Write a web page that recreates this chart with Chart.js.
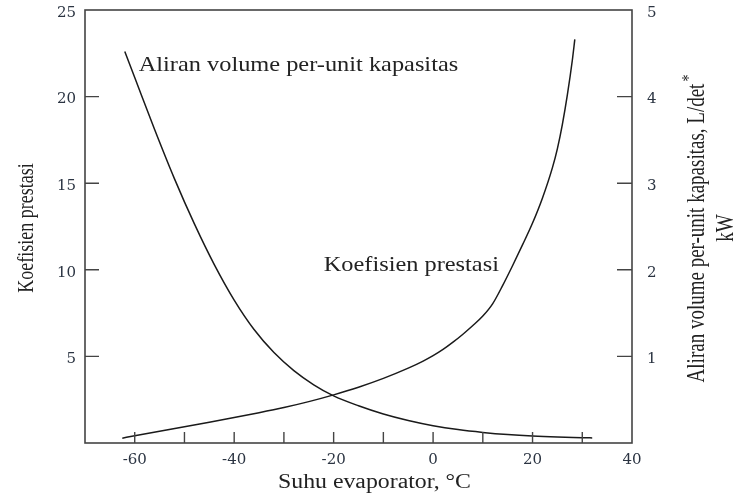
<!DOCTYPE html>
<html><head><meta charset="utf-8">
<script src="https://cdn.jsdelivr.net/npm/chart.js@4.4.0/dist/chart.umd.min.js"></script>
<style>html,body{margin:0;padding:0;background:#fff}#wrap{width:740px;height:501px;position:relative}</style>
</head><body><div id="wrap"><canvas id="c"></canvas></div>
<script>
// Koefisien prestasi (left axis) vs evaporator temperature
const copTemps  = [-62.5,-60,-55,-50,-45,-40,-35,-30,-25,-20,-15,-10,-5,-2,0,2,4,6,8,10,12,14,16,18,20,22,24,25,26,27,28,28.5];
const copValues = [0.28,0.42,0.68,0.94,1.2,1.47,1.75,2.05,2.39,2.78,3.22,3.73,4.32,4.73,5.04,5.4,5.82,6.28,6.78,7.33,8.05,9.1,10.25,11.45,12.7,14.15,15.9,17.0,18.4,20.1,22.1,23.3];
// Aliran volume per-unit kapasitas (right axis)
const volTemps  = [-62,-60,-56,-52,-48,-44,-40,-36,-32,-28,-24,-20,-15,-10,-5,0,5,10,15,20,25,30,32];
const volValues = [4.52,4.22,3.62,3.05,2.53,2.06,1.65,1.31,1.044,0.836,0.672,0.544,0.43,0.335,0.26,0.2,0.155,0.122,0.097,0.08,0.069,0.062,0.059];
// axis ticks
const xTickValues = [-60,-50,-40,-30,-20,-10,0,10,20,30];
const xTickLabels = [-60,-40,-20,0,20,40];
const leftTickLabels = [5,10,15,20,25];
const rightTickLabels = [1,2,3,4,5];
// texts
const xTitle = 'Suhu evaporator, \u00B0C';
const leftTitle = 'Koefisien prestasi';
const rightTitle = ['Aliran volume per-unit kapasitas, L/det', 'kW'];
const annVolume = {text: 'Aliran volume per-unit kapasitas', x: -59.2, y: 21.5};
const annCop = {text: 'Koefisien prestasi', x: -22, y: 9.93};

const INK = '#222';
const AXIS = '#444';
const SERIF = '"Liberation Serif", "Times New Roman", serif';

function pairs(xs, ys){ return xs.map((x,i)=>({x:x, y:ys[i]})); }

function txt(ctx, s, x, y, size, opts){
  opts = opts || {};
  ctx.save();
  ctx.translate(x, y);
  if (opts.rot) { ctx.rotate(opts.rot); ctx.scale(1, opts.stretch || 1); }
  else ctx.scale(opts.stretch || 1, 1);
  ctx.font = size + 'px ' + SERIF;
  ctx.fillStyle = INK;
  ctx.textAlign = opts.align || 'left';
  ctx.textBaseline = 'alphabetic';
  ctx.fillText(s, 0, 0);
  const w = ctx.measureText(s).width;
  ctx.restore();
  return w;
}

const decor = {
  id: 'decor',
  afterDraw(chart){
    const ctx = chart.ctx, a = chart.chartArea;
    const xs = chart.scales.x, yl = chart.scales.y, yr = chart.scales.y2;
    ctx.save();
    ctx.strokeStyle = AXIS; ctx.lineWidth = 1.6;
    ctx.strokeRect(a.left, a.top, a.right - a.left, a.bottom - a.top);
    ctx.lineWidth = 1.4;
    ctx.beginPath();
    xTickValues.forEach(v => { const p = xs.getPixelForValue(v); ctx.moveTo(p, a.bottom); ctx.lineTo(p, a.bottom - 11); });
    leftTickLabels.filter(v=>v<25).forEach(v => { const p = yl.getPixelForValue(v); ctx.moveTo(a.left, p); ctx.lineTo(a.left + 14, p); });
    rightTickLabels.filter(v=>v<5).forEach(v => { const p = yr.getPixelForValue(v); ctx.moveTo(a.right, p); ctx.lineTo(a.right - 15, p); });
    ctx.stroke();
    ctx.restore();

    // annotations
    txt(ctx, annVolume.text, xs.getPixelForValue(annVolume.x), yl.getPixelForValue(annVolume.y), 21, {stretch: 1.16});
    txt(ctx, annCop.text, xs.getPixelForValue(annCop.x), yl.getPixelForValue(annCop.y), 21, {stretch: 1.16});
    // x title
    txt(ctx, xTitle, (a.left + a.right) / 2 + 16, 488, 20, {stretch: 1.19, align: 'center'});
    // left title
    txt(ctx, leftTitle, 32.5, 228, 18, {rot: -Math.PI/2, stretch: 1.3, align: 'center'});
    // right title
    const w1 = txt(ctx, rightTitle[0], 704, 233, 19, {rot: -Math.PI/2, stretch: 1.3, align: 'center'});
    txt(ctx, '*', 695, 233 - w1/2 - 2, 14, {rot: -Math.PI/2, stretch: 1.3, align: 'left'});
    txt(ctx, rightTitle[1], 733, 228, 19, {rot: -Math.PI/2, stretch: 1.3, align: 'center'});
  }
};

const tickFont = {family: '"DejaVu Serif", serif', size: 15};
const tickColor = '#2b3442';

new Chart(document.getElementById('c'), {
  type: 'line',
  data: {
    datasets: [
      {label: leftTitle, data: pairs(copTemps, copValues), yAxisID: 'y', borderColor: '#1a1a1a', borderWidth: 1.5, pointRadius: 0, cubicInterpolationMode: 'monotone', fill: false},
      {label: rightTitle[0], data: pairs(volTemps, volValues), yAxisID: 'y2', borderColor: '#1a1a1a', borderWidth: 1.5, pointRadius: 0, cubicInterpolationMode: 'monotone', fill: false}
    ]
  },
  options: {
    responsive: true, maintainAspectRatio: false, animation: false,
    layout: {padding: {top: 10, left: 0, right: 0, bottom: 0}},
    plugins: {legend: {display: false}, tooltip: {enabled: false}},
    scales: {
      x: {
        type: 'linear', min: -70, max: 40,
        grid: {display: false, drawTicks: false}, border: {display: false},
        ticks: {stepSize: 10, font: tickFont, color: tickColor, padding: 8, maxRotation: 0, autoSkip: false,
          callback: v => xTickLabels.includes(v) ? String(v) : ''},
        afterFit: s => { s.height = 58; s.paddingLeft = 0; s.paddingRight = 0; }
      },
      y: {
        position: 'left', min: 0, max: 25,
        grid: {display: false, drawTicks: false}, border: {display: false},
        ticks: {stepSize: 5, font: tickFont, color: tickColor, padding: 9, labelOffset: 3,
          callback: v => leftTickLabels.includes(v) ? String(v) : ''},
        afterFit: s => { s.width = 85; s.paddingTop = 0; s.paddingBottom = 0; }
      },
      y2: {
        position: 'right', min: 0, max: 5,
        grid: {display: false, drawTicks: false}, border: {display: false},
        ticks: {stepSize: 1, font: tickFont, color: tickColor, padding: 15, labelOffset: 3,
          callback: v => rightTickLabels.includes(v) ? String(v) : ''},
        afterFit: s => { s.width = 108; s.paddingTop = 0; s.paddingBottom = 0; }
      }
    }
  },
  plugins: [decor]
});
</script>
</body></html>
